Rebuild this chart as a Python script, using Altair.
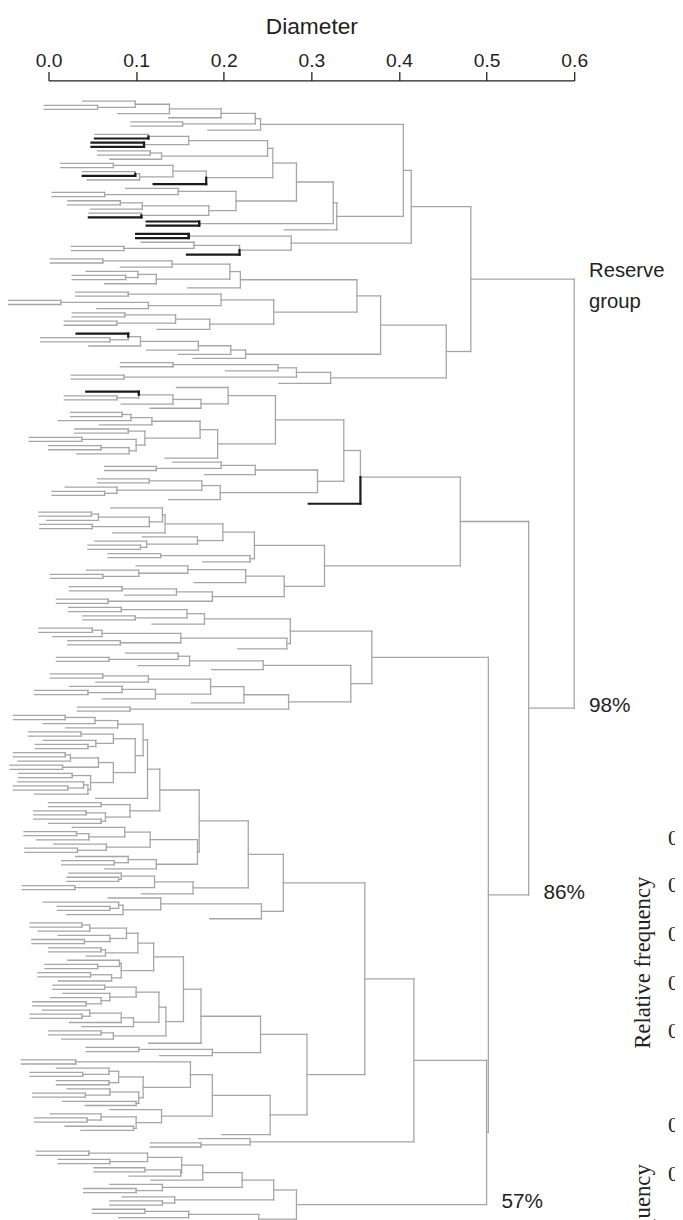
import altair as alt
import pandas as pd

# ---- tree data: leaf = start diameter ("k" = highlighted), "(a,b)h" = merge at diameter h, {tag} = labelled node
A = "(((((0.039,(-0.005,-0.005)0.056)0.099,0.079)0.138,0.137)0.197,(0.094,0.094)0.153)0.236,0.182)0.242"
N160 = "((0.053,0.053k)0.114,(0.049k,0.049k)0.109)0.16"
N129 = "((0.056,0.056)0.116,0.07)0.129"
N180 = "(((0.014,0.014)0.074,((0.039,0.039k)0.099,0.044)0.104)0.142,0.12k)0.18"
N214 = "((0.088,(0.004,0.004)0.064)0.148,(((0.022,0.022)0.082,0.048)0.107,(0.046,0.046k)0.106)0.183)0.214"
B1a = f"((({N160},{N129})0.25,{N180})0.256,{N214})0.283"
B = f"(({B1a},(0.112k,0.112k)0.172)0.325,0.269)0.329"
R1b = "((0.1k,0.1k)0.16,((0.106,(0.026,0.026)0.086)0.166,0.158k)0.218)0.277"
R1 = f"(({A},{B})0.405,{R1b})0.414"
N219 = "((((0.002,0.002)0.062,0.082)0.141,((0.043,(0.027,0.027)0.088)0.102,0.064)0.123)0.207,0.159)0.219"
N257 = "(((0.031,0.031)0.091,((-0.046,-0.046)0.014,0.055)0.114)0.197,(((0.027,0.027)0.087,(0.018,0.018)0.078)0.145,0.124)0.184)0.257"
N225 = "(((((0.032k,(-0.009,-0.009)0.07)0.091,0.046)0.105,0.112)0.171,0.148)0.208,0.165)0.225"
R2b = "((((0.082,0.082)0.142,0.202)0.262,(0.026,0.026)0.086)0.283,0.263)0.322"
R2 = f"((({N219},{N257})0.352,{N225})0.379,{R2b})0.454"
RESERVE = f"({R1},{R2})0.482{{R}}"

N205 = "(0.146,(((0.043k,(0.018,0.018)0.078)0.103,0.083)0.142,0.116)0.174)0.205"
N118 = "(((0.025,0.025)0.084,0.011)0.094,0.058)0.118"
N110 = "((0.03,0.03)0.091,((-0.022,-0.022)0.038,((0.0,0.0)0.06,0.032)0.092)0.1)0.11"
N259 = f"({N205},(({N118},{N110})0.173,0.133)0.193)0.259"
N236 = "((0.142,(0.064,0.064)0.123)0.197,0.178)0.236"
N196 = "(((0.056,0.056)0.115,(0.019,(0.004,0.004)0.064)0.078)0.175,0.137)0.196"
N356 = f"(({N259},({N236},{N196})0.307)0.337,0.297k)0.356"
N133 = "((0.071,(((-0.011,-0.011)0.049,-0.002)0.057,(-0.01,-0.01)0.05)0.115)0.13,0.073)0.133"
N235 = f"(({N133},(0.107,(0.053,(0.045,0.045)0.105)0.112)0.17)0.199,((0.068,0.068)0.128,0.176)0.23)0.235"
N269 = "(((0.1,(0.043,(0.002,0.002)0.062)0.103)0.159,0.166)0.225,(((0.024,0.024)0.084,0.087)0.146,(0.009,0.009)0.068)0.187)0.269"
N470 = f"({N356},({N235},{N269})0.315)0.47"

N178 = "(((0.023,0.023)0.083,(0.039,0.039)0.099)0.158,0.118)0.178"
N151 = "(((-0.011,-0.011)0.05,0.005)0.061,(0.022,0.022)0.082)0.151"
N245 = "(((0.088,(0.009,0.009)0.069)0.148,0.102)0.161,0.186)0.245"
N274 = "(((((0.002,0.002)0.062,0.054)0.114,((0.024,(-0.016,-0.016)0.045)0.084,0.062)0.122)0.185,0.163)0.223,(0.033,0.033)0.093)0.274"
N369 = f"(({N178},({N151},0.216)0.272)0.276,({N245},{N274})0.345)0.369"

N079 = "(((-0.04,-0.04)0.019,-0.006)0.053,0.02)0.079"
N074a = "((-0.023,-0.023)0.037,(-0.006,(-0.015,-0.015)0.045)0.054)0.074"
NX = "(((-0.04,-0.04)0.019,-0.035)0.025,(-0.044,-0.044)0.016)0.057"
NY = "((-0.034,-0.034)0.027,((-0.035,(-0.04,-0.04)0.022)0.04,-0.016)0.045)0.048"
N113 = f"(({N079},({N074a},({NX},{NY})0.074)0.099)0.108,0.054)0.113"
N093 = "((0.0,0.0)0.06,((-0.017,-0.017)0.043,(-0.017,0.0)0.06)0.065)0.093"
N116 = "((0.027,((-0.028,-0.028)0.032,-0.014)0.046)0.087,(0.006,(-0.027,-0.027)0.033)0.066)0.116"
N123 = "((0.031,(0.015,0.015)0.075)0.091,0.064)0.123"
N165 = "(((0.023,(0.021,0.021)0.08)0.083,(-0.03,-0.03)0.03)0.121,0.106)0.165"
N243 = "((0.068,((-0.006,(0.01,0.01)0.07)0.08,0.021)0.085)0.128,0.184)0.243"
N268 = f"(((({N113},{N093})0.127,({N116},{N123})0.17)0.172,{N165})0.228,{N243})0.268"
N089 = "(((-0.021,-0.021)0.038,-0.012)0.047,(0.011,(-0.019,-0.019)0.041)0.07)0.089"
NB = "((0.022,(-0.004,-0.004)0.056)0.081,((-0.012,-0.012)0.048,0.011)0.072)0.083"
N100 = "((0.005,0.005)0.064,(0.016,(0.002,(-0.018,-0.018)0.043)0.06)0.07)0.1"
N097 = "(((-0.007,(-0.021,-0.021)0.038)0.047,0.024)0.083,0.038)0.097"
N074b = "((0.0,0.0)0.06,0.015)0.074"
N242 = (f"((((({N089},((0.0,0.0)0.06,0.043)0.065)0.102,{NB})0.12,"
        f"(({N100},{N097})0.126,{N074b})0.134)0.154,0.114)0.174,((0.043,0.043)0.103,0.127)0.187)0.242")
N108b = "(((0.009,(-0.021,-0.021)0.039)0.069,(0.009,0.009)0.069)0.08,((0.021,(-0.018,-0.018)0.042)0.07,(0.016,0.042)0.1)0.103)0.108"
N129b = "(0.07,((0.002,(-0.016,-0.016)0.044)0.06,(0.019,0.037)0.097)0.1)0.129"
N253 = f"((((-0.031,-0.031)0.031,{N108b})0.162,{N129b})0.187,0.198)0.253"
N417 = f"(({N268},({N242},{N253})0.295)0.361,(0.171,(0.116,0.116)0.174)0.23)0.417"
N221 = "(((((-0.014,-0.014)0.046,(0.011,0.011)0.07)0.113,((0.052,0.052)0.11,0.092)0.151)0.152,0.117)0.176,(0.07,(0.04,0.04)0.1)0.13)0.221"
N144 = "(0.084,(0.07,0.07)0.13)0.144"
NEXTRA = "(((0.05,0.05)0.11,0.08)0.16,(0.06,0.02)0.1)0.24"
N57 = f"(({N221},{N144})0.257,{NEXTRA})0.283{{P57}}"
N86 = f"({N369},({N417},{N57})0.5)0.502{{P86}}"
N98 = f"({N470},{N86})0.548{{P98}}"
ROOT = f"({RESERVE},{N98})0.6"

tag_text = {"R": "Reserve\ngroup", "P98": "98%", "P86": "86%", "P57": "57%"}
axis_values = [0.0, 0.1, 0.2, 0.3, 0.4, 0.5, 0.6]

# neighbouring (cropped) panel text
side_title = "Relative frequency"
side_title_x = 0.679
side_title_y = [207.6, 276.9]
side_tick_x = 0.707
side_tick_y = [177.6, 189.0, 200.7, 212.6, 224.0, 246.7, 258.6]


def parse(s):
    pos = 0

    def num():
        nonlocal pos
        st = pos
        while pos < len(s) and s[pos] in "-0123456789.":
            pos += 1
        return float(s[st:pos])

    def node():
        nonlocal pos
        if s[pos] == "(":
            pos += 1
            kids = [node()]
            while s[pos] == ",":
                pos += 1
                kids.append(node())
            pos += 1
            n = {"kids": kids, "x": num()}
        else:
            n = {"x": num()}
            if pos < len(s) and s[pos] == "k":
                n["black"] = True
                pos += 1
        if pos < len(s) and s[pos] == "{":
            end = s.index("}", pos)
            n["tag"] = s[pos + 1:end]
            pos = end + 1
        return n

    return node()


root = parse(ROOT)
counter = [0]


def layout(n, parent):
    n["parent"] = parent
    if "kids" not in n:
        n["y"] = counter[0]
        counter[0] += 1
    else:
        for k in n["kids"]:
            layout(k, n)
        ys = [k["y"] for k in n["kids"]]
        n["y"] = (min(ys) + max(ys)) / 2


layout(root, None)

segs, labels = [], []


def collect(n):
    if "tag" in n:
        px = n["parent"]["x"] if n["parent"] else n["x"]
        labels.append({"x": px, "y": n["y"], "text": tag_text[n["tag"]], "kind": n["tag"]})
    if "kids" in n:
        ys = [k["y"] for k in n["kids"]]
        segs.append({"x": n["x"], "x2": n["x"], "y": min(ys), "y2": max(ys), "c": "g"})
        for k in n["kids"]:
            c = "k" if k.get("black") else "g"
            segs.append({"x": k["x"], "x2": n["x"], "y": k["y"], "y2": k["y"], "c": c})
            if k.get("black"):
                segs.append({"x": n["x"], "x2": n["x"], "y": k["y"], "y2": n["y"], "c": "k"})
            collect(k)


collect(root)
df = pd.DataFrame(segs)
lab = pd.DataFrame(labels)

xscale = alt.Scale(domain=[0, 0.6], nice=False, zero=False)
yscale = alt.Scale(domain=[-5, 267.86], nice=False, zero=False, reverse=True)
xaxis = alt.Axis(orient="top", values=axis_values, format=".1f", title="Diameter",
                 grid=False, tickSize=9, tickWidth=1.3, domainWidth=1.3,
                 domainColor="#231f20", tickColor="#231f20", labelColor="#231f20",
                 titleColor="#231f20", labelFont="Liberation Sans", titleFont="Liberation Sans",
                 labelFontSize=19.5, titleFontSize=23, titleFontWeight="normal",
                 labelBaseline="alphabetic", labelPadding=5,
                 titleBaseline="alphabetic", titleY=-47, labelFlush=False)

base = alt.Chart(df).encode(
    x=alt.X("x:Q", scale=xscale, axis=xaxis),
    x2="x2:Q",
    y=alt.Y("y:Q", scale=yscale, axis=None),
    y2="y2:Q",
)
gray = base.transform_filter(alt.datum.c == "g").mark_rule(color="#a6a6a6", strokeWidth=1.3, strokeCap="square")
black = base.transform_filter(alt.datum.c == "k").mark_rule(color="#1a1a1a", strokeWidth=2.2, strokeCap="square")

tbase = alt.Chart(lab).encode(
    x=alt.X("x:Q", scale=xscale, axis=xaxis),
    y=alt.Y("y:Q", scale=yscale, axis=None),
    text="text:N",
)
res_text = tbase.transform_filter(alt.datum.kind == "R").mark_text(
    align="left", baseline="alphabetic", dx=15, dy=-2, fontSize=20.5, lineHeight=31,
    lineBreak="\n", font="Liberation Sans", color="#231f20")
pct_text = tbase.transform_filter(alt.datum.kind != "R").mark_text(
    align="left", baseline="alphabetic", dx=15, dy=4, fontSize=21,
    font="Liberation Sans", color="#231f20")

side1 = alt.Chart(pd.DataFrame({"x": [side_title_x] * len(side_title_y), "y": side_title_y,
                                "t": [side_title] * len(side_title_y)})).mark_text(
    angle=270, align="center", baseline="middle", fontSize=23, font="Liberation Serif",
    color="#231f20").encode(x=alt.X("x:Q", scale=xscale, axis=xaxis),
                            y=alt.Y("y:Q", scale=yscale, axis=None), text="t:N")
side2 = alt.Chart(pd.DataFrame({"x": [side_tick_x] * len(side_tick_y), "y": side_tick_y,
                                "t": ["0.0"] * len(side_tick_y)})).mark_text(
    align="left", baseline="middle", fontSize=22, font="Liberation Serif",
    color="#231f20").encode(x=alt.X("x:Q", scale=xscale, axis=xaxis),
                            y=alt.Y("y:Q", scale=yscale, axis=None), text="t:N")

chart = alt.layer(gray, black, res_text, pct_text, side1, side2).properties(
    width=532, height=1146,
    autosize=alt.AutoSizeParams(type="none"),
    padding={"left": 41, "top": 66, "right": 102, "bottom": 0},
).configure_view(stroke=None)

chart.save("out.html", embed_options={"renderer": "svg", "actions": False})
